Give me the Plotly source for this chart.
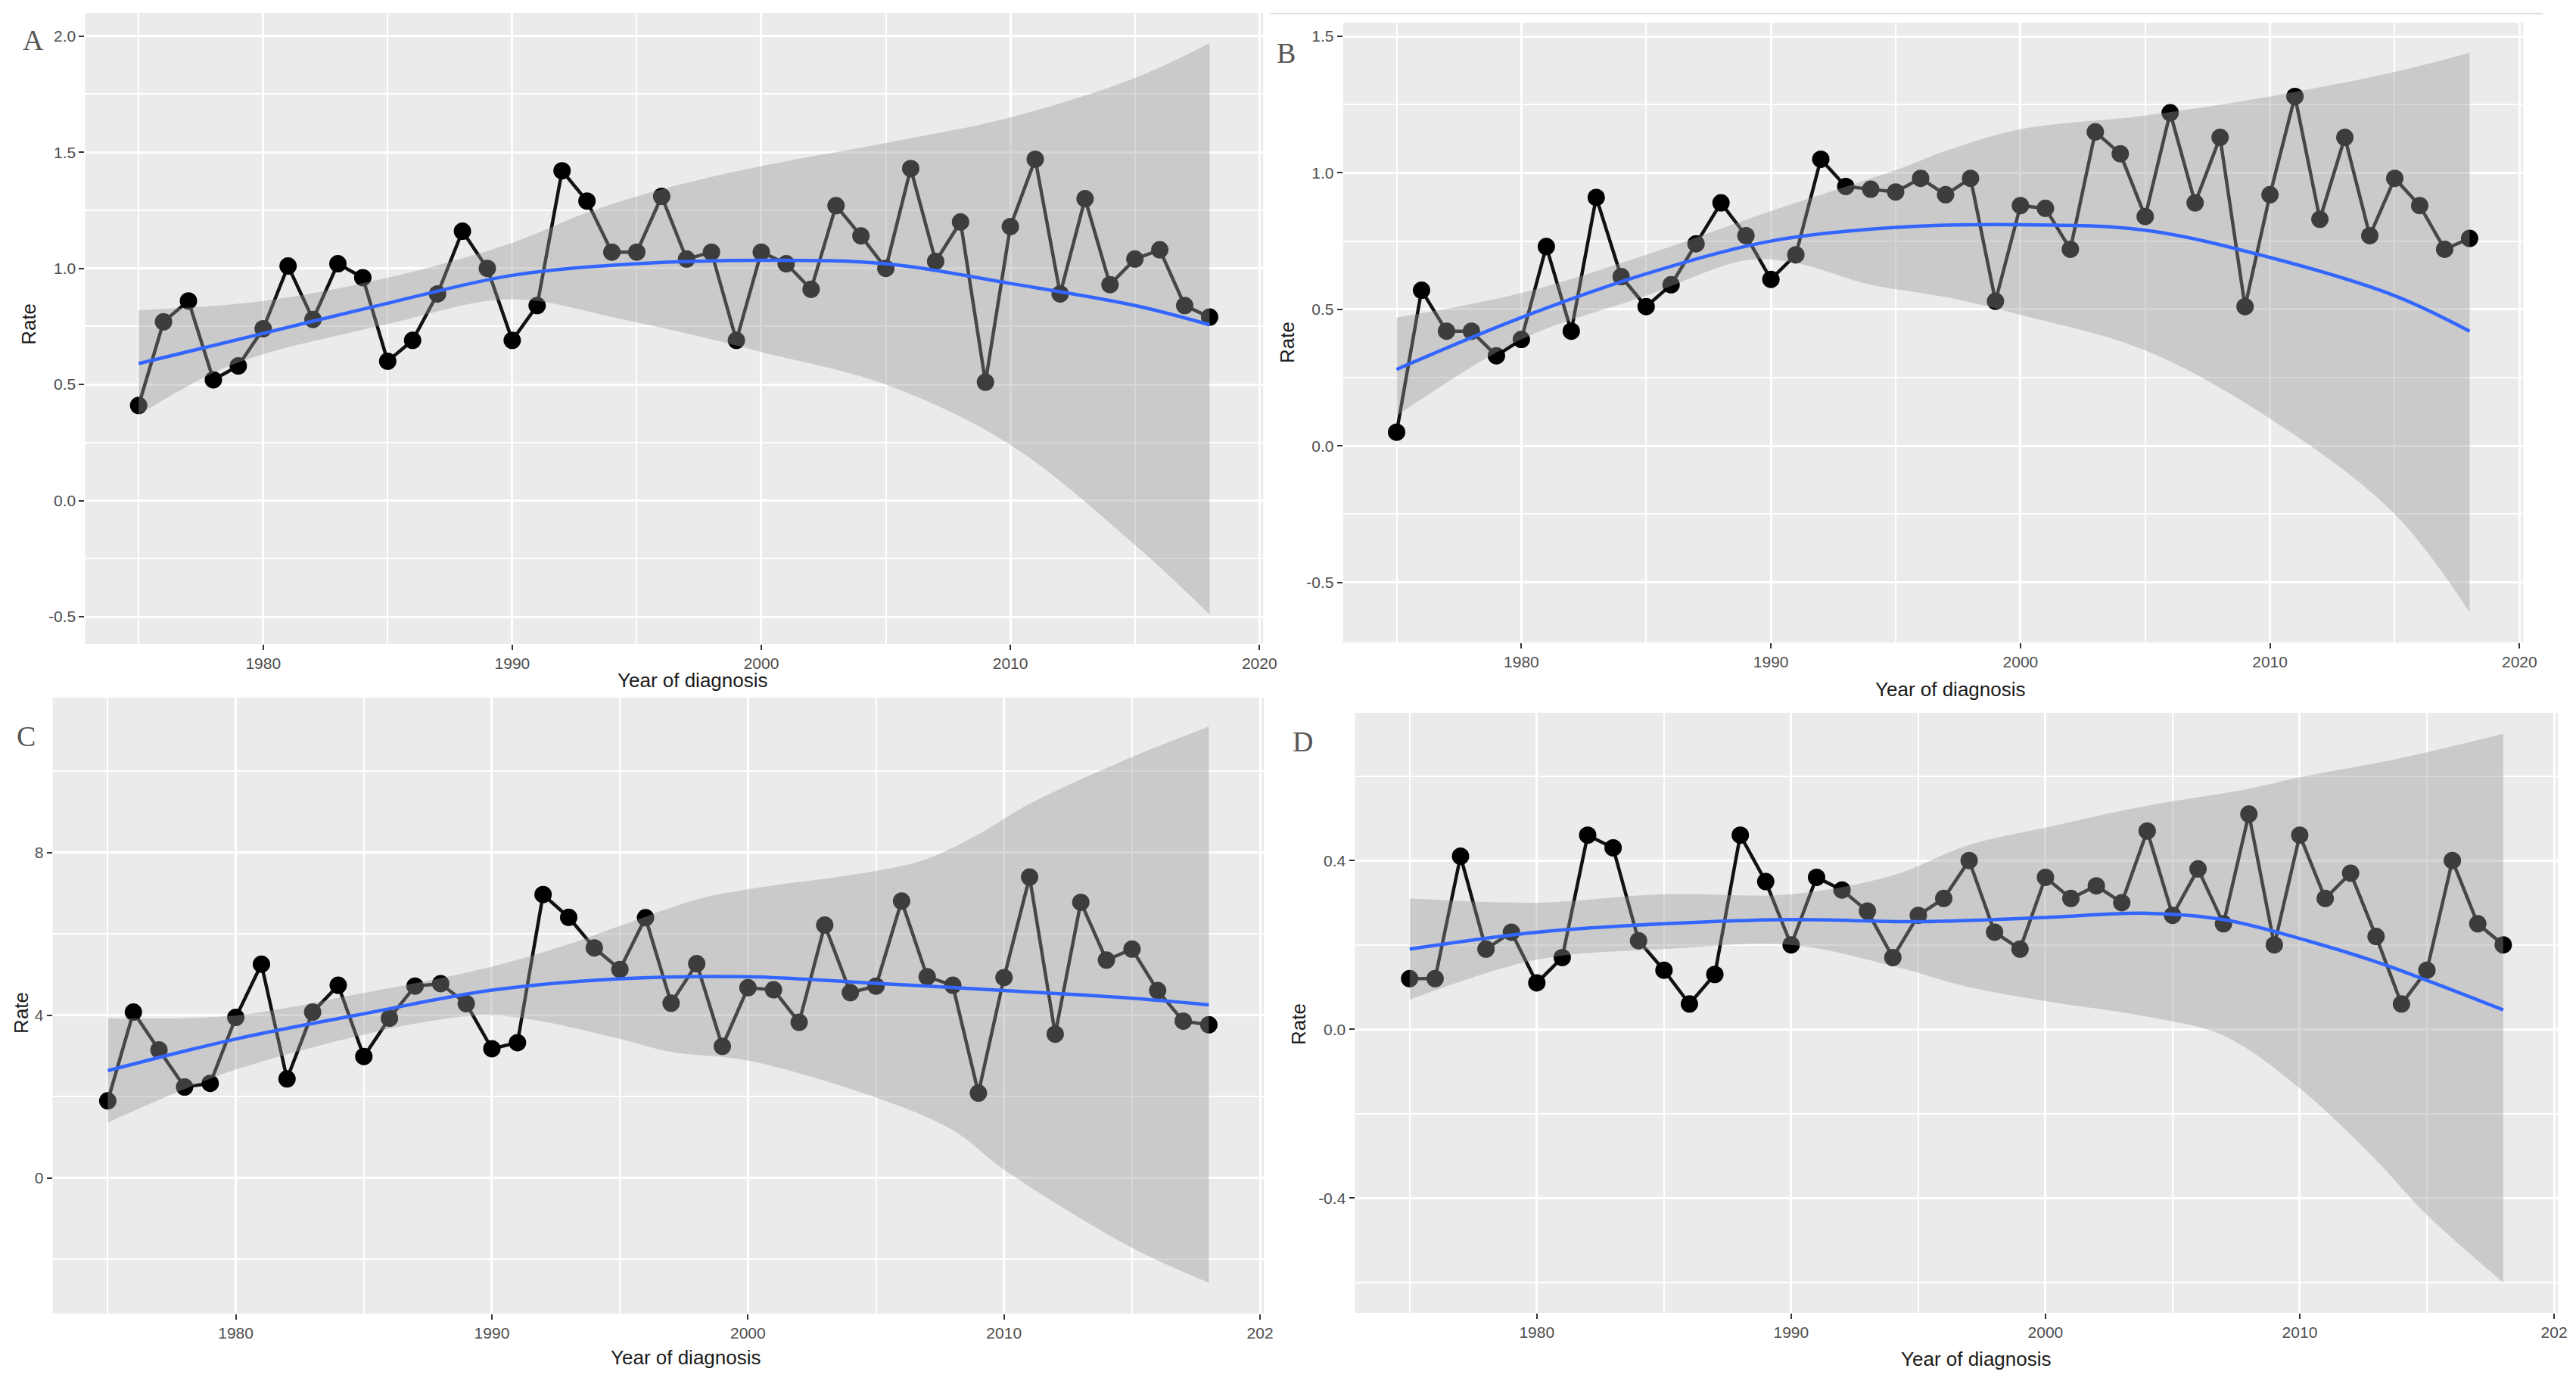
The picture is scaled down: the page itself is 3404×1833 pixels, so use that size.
import plotly.graph_objects as go

# ---------------- data ----------------
years = list(range(1975, 2019))

rate_a = [0.41, 0.77, 0.86, 0.52, 0.58, 0.74, 1.01, 0.78, 1.02, 0.96,
          0.60, 0.69, 0.89, 1.16, 1.00, 0.69, 0.84, 1.42, 1.29, 1.07,
          1.07, 1.31, 1.04, 1.07, 0.69, 1.07, 1.02, 0.91, 1.27, 1.14,
          1.00, 1.43, 1.03, 1.20, 0.51, 1.18, 1.47, 0.89, 1.30, 0.93,
          1.04, 1.08, 0.84, 0.79]
rate_b = [0.05, 0.57, 0.42, 0.42, 0.33, 0.39, 0.73, 0.42, 0.91, 0.62,
          0.51, 0.59, 0.74, 0.89, 0.77, 0.61, 0.70, 1.05, 0.95, 0.94,
          0.93, 0.98, 0.92, 0.98, 0.53, 0.88, 0.87, 0.72, 1.15, 1.07,
          0.84, 1.22, 0.89, 1.13, 0.51, 0.92, 1.28, 0.83, 1.13, 0.77,
          0.98, 0.88, 0.72, 0.76]
rate_c = [1.90, 4.08, 3.15, 2.24, 2.33, 3.95, 5.26, 2.44, 4.08, 4.74,
          2.99, 3.93, 4.72, 4.78, 4.29, 3.18, 3.33, 6.97, 6.41, 5.66,
          5.13, 6.40, 4.30, 5.27, 3.24, 4.68, 4.63, 3.83, 6.22, 4.56,
          4.72, 6.81, 4.95, 4.74, 2.09, 4.93, 7.40, 3.54, 6.78, 5.36,
          5.63, 4.61, 3.86, 3.77]
rate_d = [0.12, 0.12, 0.41, 0.19, 0.23, 0.11, 0.17, 0.46, 0.43, 0.21,
          0.14, 0.06, 0.13, 0.46, 0.35, 0.20, 0.36, 0.33, 0.28, 0.17,
          0.27, 0.31, 0.40, 0.23, 0.19, 0.36, 0.31, 0.34, 0.30, 0.47,
          0.27, 0.38, 0.25, 0.51, 0.20, 0.46, 0.31, 0.37, 0.22, 0.06,
          0.14, 0.40, 0.25, 0.20]

# smoothed fit and its confidence band
fit_a_x = [1975, 1980, 1985, 1990, 1995, 2000, 2005, 2010, 2015, 2018]
fit_a_y = [0.59, 0.72, 0.85, 0.97, 1.02, 1.035, 1.02, 0.935, 0.84, 0.757]
up_a_x = [1975, 1980, 1985, 1990, 1993, 1996, 2000, 2005, 2010, 2015, 2018]
up_a_y = [0.82, 0.86, 0.96, 1.11, 1.24, 1.34, 1.44, 1.54, 1.65, 1.82, 1.97]
lo_a_x = [1975, 1978, 1980, 1985, 1989, 1991, 1994, 1997, 2000, 2005, 2010, 2015, 2018]
lo_a_y = [0.37, 0.55, 0.63, 0.76, 0.86, 0.86, 0.79, 0.72, 0.64, 0.50, 0.24, -0.19, -0.49]

fit_b_x = [1975, 1980, 1985, 1990, 1995, 2000, 2005, 2010, 2015, 2018]
fit_b_y = [0.28, 0.47, 0.63, 0.75, 0.80, 0.81, 0.79, 0.69, 0.55, 0.42]
up_b_x = [1975, 1980, 1985, 1990, 1995, 1997, 2000, 2005, 2010, 2015, 2018]
up_b_y = [0.47, 0.56, 0.70, 0.86, 1.01, 1.08, 1.16, 1.21, 1.28, 1.37, 1.44]
lo_b_x = [1975, 1980, 1985, 1989, 1991, 1994, 1997, 2000, 2005, 2010, 2015, 2018]
lo_b_y = [0.11, 0.39, 0.55, 0.68, 0.67, 0.59, 0.545, 0.48, 0.35, 0.10, -0.25, -0.61]

fit_c_x = [1975, 1980, 1985, 1990, 1995, 2000, 2005, 2010, 2015, 2018]
fit_c_y = [2.64, 3.42, 4.04, 4.62, 4.90, 4.95, 4.79, 4.61, 4.42, 4.26]
up_c_x = [1975, 1980, 1985, 1990, 1993, 1995, 1998, 2000, 2005, 2007, 2009, 2011, 2015, 2018]
up_c_y = [3.93, 4.00, 4.55, 5.20, 5.75, 6.20, 6.85, 7.10, 7.55, 7.85, 8.45, 9.20, 10.35, 11.10]
lo_c_x = [1975, 1978, 1980, 1985, 1988, 1990, 1992, 1995, 1997, 2000, 2005, 2008, 2010, 2015, 2018]
lo_c_y = [1.37, 2.19, 2.67, 3.53, 3.90, 4.00, 3.85, 3.42, 3.10, 2.89, 1.98, 1.18, 0.21, -1.71, -2.57]

fit_d_x = [1975, 1980, 1985, 1990, 1995, 2000, 2004, 2007, 2010, 2013, 2015, 2018]
fit_d_y = [0.19, 0.23, 0.25, 0.26, 0.255, 0.265, 0.275, 0.26, 0.215, 0.16, 0.116, 0.046]
up_d_x = [1975, 1980, 1985, 1990, 1994, 1997, 2000, 2004, 2008, 2010, 2014, 2018]
up_d_y = [0.31, 0.30, 0.32, 0.32, 0.365, 0.437, 0.478, 0.53, 0.57, 0.597, 0.643, 0.70]
lo_d_x = [1975, 1980, 1985, 1990, 1994, 1997, 2000, 2004, 2007, 2010, 2013, 2015, 2018]
lo_d_y = [0.07, 0.165, 0.19, 0.20, 0.15, 0.10, 0.067, 0.03, -0.015, -0.14, -0.31, -0.44, -0.60]

x_ticks = [1980, 1990, 2000, 2010, 2020]
x_labels_top = ["1980", "1990", "2000", "2010", "2020"]
x_labels_bottom = ["1980", "1990", "2000", "2010", "202"]
x_minor = [1975, 1985, 1995, 2005, 2015]

y_ticks_a = [-0.5, 0.0, 0.5, 1.0, 1.5, 2.0]
y_labels_a = ["-0.5", "0.0", "0.5", "1.0", "1.5", "2.0"]
y_minor_a = [-0.25, 0.25, 0.75, 1.25, 1.75]
y_ticks_b = [-0.5, 0.0, 0.5, 1.0, 1.5]
y_labels_b = ["-0.5", "0.0", "0.5", "1.0", "1.5"]
y_minor_b = [-0.25, 0.25, 0.75, 1.25]
y_ticks_c = [0, 4, 8]
y_labels_c = ["0", "4", "8"]
y_minor_c = [-2, 2, 6, 10]
y_ticks_d = [-0.4, 0.0, 0.4]
y_labels_d = ["-0.4", "0.0", "0.4"]
y_minor_d = [-0.6, -0.2, 0.2, 0.6]

# ---------------- layout constants ----------------
W, H = 3404, 1833


def dom_x(l, r):
    return [l / W, r / W]


def dom_y(t, b):
    return [1 - b / H, 1 - t / H]


panels = [
    dict(letter="A", rate=rate_a, fx=fit_a_x, fy=fit_a_y, ux=up_a_x, uy=up_a_y, lx=lo_a_x, ly=lo_a_y,
         box=(105, 1670, 9, 843), yr=[-0.617, 2.10], yt=y_ticks_a, yl=y_labels_a, ym=y_minor_a,
         xl=x_labels_top, letter_pos=(36, 45), rate_pos=(30, 420), year_pos=(912, 891)),
    dict(letter="B", rate=rate_b, fx=fit_b_x, fy=fit_b_y, ux=up_b_x, uy=up_b_y, lx=lo_b_x, ly=lo_b_y,
         box=(1776, 3344, 22, 841), yr=[-0.72, 1.55], yt=y_ticks_b, yl=y_labels_b, ym=y_minor_b,
         xl=x_labels_top, letter_pos=(1700, 62), rate_pos=(1702, 445), year_pos=(2583, 903)),
    dict(letter="C", rate=rate_c, fx=fit_c_x, fy=fit_c_y, ux=up_c_x, uy=up_c_y, lx=lo_c_x, ly=lo_c_y,
         box=(62, 1671, 914, 1728), yr=[-3.33, 11.81], yt=y_ticks_c, yl=y_labels_c, ym=y_minor_c,
         xl=x_labels_bottom, letter_pos=(27, 965), rate_pos=(20, 1330), year_pos=(903, 1786)),
    dict(letter="D", rate=rate_d, fx=fit_d_x, fy=fit_d_y, ux=up_d_x, uy=up_d_y, lx=lo_d_x, ly=lo_d_y,
         box=(1792, 3390, 934, 1727), yr=[-0.672, 0.75], yt=y_ticks_d, yl=y_labels_d, ym=y_minor_d,
         xl=x_labels_bottom, letter_pos=(1723, 972), rate_pos=(1717, 1345), year_pos=(2617, 1788)),
]

fig = go.Figure()
annotations = []
tick_font = dict(family="Liberation Sans, Arial, sans-serif", size=21, color="#4D4D4D")
title_font = dict(family="Liberation Sans, Arial, sans-serif", size=26, color="#1a1a1a")

for i, p in enumerate(panels):
    n = "" if i == 0 else str(i + 1)
    xa, ya = "x" + n, "y" + n
    fig.add_trace(go.Scatter(x=years, y=p["rate"], mode="lines+markers", xaxis=xa, yaxis=ya,
                             line=dict(color="#111111", width=4.5),
                             marker=dict(size=23, color="#000000"), showlegend=False))
    fig.add_trace(go.Scatter(x=p["ux"], y=p["uy"], mode="lines", xaxis=xa, yaxis=ya,
                             line=dict(width=0, shape="spline", color="rgba(0,0,0,0)"),
                             showlegend=False, hoverinfo="skip"))
    fig.add_trace(go.Scatter(x=p["lx"], y=p["ly"], mode="lines", xaxis=xa, yaxis=ya,
                             line=dict(width=0, shape="spline", color="rgba(0,0,0,0)"),
                             fill="tonexty", fillcolor="rgba(153,153,153,0.4)",
                             showlegend=False, hoverinfo="skip"))
    fig.add_trace(go.Scatter(x=p["fx"], y=p["fy"], mode="lines", xaxis=xa, yaxis=ya,
                             line=dict(color="#3366FF", width=4.5, shape="spline"),
                             showlegend=False))
    l, r, t, b = p["box"]
    common = dict(showgrid=True, gridcolor="white", gridwidth=3, zeroline=False, showline=False,
                  ticks="outside", ticklen=7, tickwidth=2, tickcolor="#333333", tickfont=tick_font)
    fig.layout["xaxis" + n] = dict(domain=dom_x(l, r), anchor=ya, range=[1972.85, 2020.15],
                                   tickmode="array", tickvals=x_ticks, ticktext=p["xl"],
                                   minor=dict(tickmode="array", tickvals=x_minor, showgrid=True,
                                              gridcolor="white", gridwidth=1.5, ticklen=0),
                                   **common)
    fig.layout["yaxis" + n] = dict(domain=dom_y(t, b), anchor=xa, range=p["yr"],
                                   tickmode="array", tickvals=p["yt"], ticktext=p["yl"],
                                   minor=dict(tickmode="array", tickvals=p["ym"], showgrid=True,
                                              gridcolor="white", gridwidth=1.5, ticklen=0),
                                   **common)
    lx_, ly_ = p["letter_pos"]
    annotations.append(dict(text=p["letter"], x=lx_ / W, y=1 - ly_ / H, xref="paper", yref="paper",
                            showarrow=False, xanchor="center", yanchor="middle",
                            font=dict(family="Liberation Serif, Times New Roman, serif", size=38,
                                      color="#555555")))
    rx, ry = p["rate_pos"]
    annotations.append(dict(text="Rate", x=rx / W, y=1 - ry / H, xref="paper", yref="paper",
                            showarrow=False, textangle=-90, xanchor="center", yanchor="middle",
                            font=title_font))
    yx, yy = p["year_pos"]
    annotations.append(dict(text="Year of diagnosis", x=yx / W, y=1 - yy / H, xref="paper",
                            yref="paper", showarrow=False, xanchor="center", yanchor="middle",
                            font=title_font))

fig.update_layout(width=W, height=H, margin=dict(l=0, r=0, t=0, b=0),
                  paper_bgcolor="white", plot_bgcolor="#EBEBEB", showlegend=False,
                  annotations=annotations,
                  shapes=[dict(type="line", xref="paper", yref="paper", x0=1680 / W, x1=3370 / W,
                               y0=1 - 10 / H, y1=1 - 10 / H, line=dict(color="#DDDDDD", width=2))])

fig.write_html("out.html")
